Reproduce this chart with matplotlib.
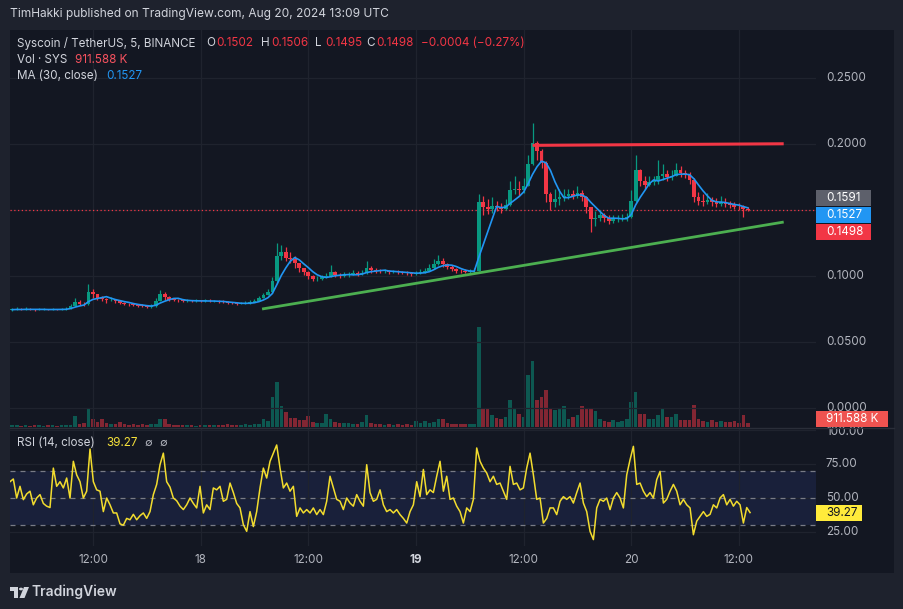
import numpy as np
import pandas as pd
import matplotlib
matplotlib.use("Agg")
import matplotlib.pyplot as plt
from matplotlib.patches import Rectangle, Circle, Polygon
from matplotlib.transforms import blended_transform_factory

plt.rcParams['font.family'] = ['Inter', 'DejaVu Sans']

# ---- data ----
# 30 minute bars, hours counted from Aug 17 00:00 UTC (first bar 03:00)
first_bar_hour = 3.0
bar_step = 0.5
first_open = 0.0742

close = [
    .0745, .0748, .0746, .0750, .0747, .0744, .0746, .0748, .0745, .0747,
    .0746, .0748, .0752, .0775, .0800, .0790, .0785, .0880, .0860, .0835,
    .0828, .0815, .0822, .0808, .0795, .0790, .0785, .0780, .0775, .0772,
    .0765, .0770, .0810, .0860, .0840, .0822, .0818, .0815, .0812, .0812,
    .0810, .0812, .0810, .0812, .0808, .0810, .0806, .0800, .0795, .0792,
    .0790, .0792, .0795, .0800, .0812, .0830, .0855, .0880, .0960, .1150,
    .1180, .1140, .1130, .1100, .1060, .1030, .1000, .0975, .0980, .0990,
    .1000, .1030, .1010, .1000, .1005, .1010, .1020, .1015, .1025, .1060,
    .1045, .1040, .1035, .1040, .1030, .1032, .1028, .1025, .1020, .1015,
    .1020, .1030, .1040, .1060, .1090, .1110, .1090, .1070, .1050, .1040,
    .1035, .1030, .1035, .1040, .1560, .1520, .1510, .1530, .1520, .1510,
    .1540, .1650, .1660, .1650, .1680, .1850, .2010, .1950, .1860, .1620,
    .1560, .1580, .1600, .1610, .1620, .1610, .1630, .1600, .1520, .1430,
    .1440, .1460, .1440, .1420, .1430, .1435, .1440, .1450, .1570, .1800,
    .1720, .1690, .1710, .1720, .1760, .1770, .1750, .1760, .1800, .1780,
    .1770, .1730, .1600, .1570, .1560, .1575, .1560, .1545, .1560, .1545,
    .1535, .1525, .1520, .1505, .1498,
]
high = [
    .0760, .0762, .0758, .0765, .0755, .0752, .0755, .0758, .0753, .0756,
    .0752, .0756, .0762, .0790, .0833, .0815, .0800, .0939, .0905, .0865,
    .0845, .0835, .0840, .0825, .0812, .0805, .0798, .0795, .0790, .0785,
    .0780, .0785, .0830, .0895, .0880, .0845, .0830, .0828, .0825, .0825,
    .0822, .0825, .0822, .0828, .0825, .0822, .0818, .0815, .0808, .0805,
    .0800, .0802, .0810, .0815, .0825, .0850, .0875, .0900, .0990, .1250,
    .1235, .1220, .1180, .1150, .1095, .1060, .1040, .1010, .1000, .1005,
    .1020, .1080, .1040, .1025, .1030, .1030, .1045, .1035, .1045, .1110,
    .1075, .1060, .1055, .1055, .1048, .1048, .1042, .1040, .1035, .1030,
    .1040, .1050, .1060, .1090, .1130, .1160, .1140, .1100, .1080, .1060,
    .1055, .1050, .1050, .1060, .1620, .1610, .1580, .1600, .1570, .1550,
    .1580, .1720, .1760, .1720, .1740, .1920, .2160, .2020, .1960, .1870,
    .1640, .1660, .1660, .1660, .1660, .1650, .1680, .1650, .1610, .1520,
    .1490, .1500, .1480, .1460, .1460, .1465, .1470, .1480, .1650, .1920,
    .1810, .1760, .1760, .1760, .1880, .1850, .1800, .1800, .1860, .1830,
    .1800, .1790, .1740, .1640, .1620, .1630, .1600, .1590, .1610, .1590,
    .1570, .1560, .1550, .1540, .1525,
]
low = [
    .0738, .0740, .0740, .0742, .0740, .0738, .0739, .0741, .0739, .0740,
    .0740, .0741, .0744, .0748, .0770, .0778, .0772, .0780, .0835, .0820,
    .0810, .0798, .0808, .0795, .0785, .0780, .0775, .0770, .0765, .0762,
    .0755, .0758, .0765, .0815, .0820, .0810, .0808, .0805, .0805, .0803,
    .0802, .0804, .0802, .0803, .0800, .0802, .0798, .0792, .0788, .0785,
    .0782, .0785, .0786, .0790, .0800, .0815, .0835, .0860, .0875, .0950,
    .1120, .1110, .1095, .1060, .1030, .1005, .0980, .0960, .0962, .0972,
    .0985, .0995, .0995, .0988, .0990, .0995, .1005, .1000, .1008, .1015,
    .1025, .1025, .1020, .1025, .1018, .1020, .1015, .1012, .1008, .1002,
    .1005, .1012, .1020, .1035, .1050, .1080, .1070, .1050, .1035, .1025,
    .1022, .1020, .1020, .1025, .1035, .1460, .1470, .1480, .1490, .1480,
    .1500, .1530, .1620, .1610, .1630, .1680, .1840, .1880, .1820, .1560,
    .1500, .1520, .1540, .1570, .1580, .1580, .1590, .1570, .1480, .1330,
    .1380, .1420, .1410, .1395, .1400, .1410, .1415, .1420, .1440, .1560,
    .1680, .1660, .1680, .1690, .1700, .1730, .1720, .1730, .1760, .1750,
    .1740, .1700, .1560, .1540, .1530, .1545, .1530, .1520, .1530, .1520,
    .1515, .1510, .1500, .1450, .1490,
]
# volume in millions of SYS
volume_m = [
    .35, .40, .30, .45, .30, .35, .40, .30, .35, .40,
    .30, .35, .40, .45, 2.5, .70, .90, 4.3, 1.8, 1.1,
    1.8, .90, .70, .70, 1.1, .60, .50, .60, .50, .60,
    .50, .60, .70, 1.8, 1.8, .70, .50, .40, .50, .40,
    .50, .30, .40, .50, .40, .50, .40, .50, .60, .50,
    .40, .50, .60, .45, .70, .70, 1.8, 1.4, 6.8, 10.3,
    4.8, 3.4, 2.1, 2.1, 1.6, 1.6, 2.5, 1.1, .90, .90,
    3.0, 1.8, 1.1, .90, .90, .90, .70, .70, 1.1, 2.7,
    .90, .70, .60, .50, .60, .50, .60, .50, .60, .50,
    1.4, .90, 1.4, .90, 1.1, 1.8, 1.8, .90, .70, .70,
    .60, .70, .60, .70, 22.8, 4.1, 4.1, 2.7, 2.1, 1.8,
    2.3, 6.2, 4.1, 3.0, 2.3, 11.9, 15.0, 6.2, 6.8, 8.4,
    4.1, 3.9, 4.1, 4.8, 1.8, 2.3, 2.7, 4.8, 4.3, 4.3,
    3.6, 1.8, 1.4, 1.1, 1.6, 1.2, 1.4, 1.8, 5.7, 8.0,
    3.0, 3.0, 1.8, 1.8, 2.7, 4.3, 2.3, 2.3, 3.0, 1.6,
    1.6, 1.6, 5.0, 1.8, 1.4, 1.2, 1.6, 1.1, 1.4, 1.2,
    1.1, 1.4, .90, 2.7, .912,
]
# RSI(14) sampled evenly from 02:45 Aug 17 to 13:15 Aug 20
rsi = [
    62, 64, 50, 58.6, 48.8, 53, 55, 45, 50, 52.5,
    46, 44, 43, 72, 58.6, 62, 57.4, 64.7, 50, 77,
    67, 62, 50, 55, 86, 62, 56, 55, 40, 50,
    45, 39, 39, 31, 30, 35, 34, 38, 34, 37,
    39, 35, 40, 52.5, 60, 74.5, 83, 62, 58, 50,
    48, 44, 41.5, 45, 50, 46, 42.7, 58.6, 39, 45,
    41.5, 57.4, 56, 58.6, 47.6, 49, 61, 54, 46, 42.7,
    30.4, 25.5, 40, 29, 40, 57.4, 72, 64.7, 77, 83,
    89, 72, 57.4, 61, 55, 58.6, 36.5, 42.7, 39, 41.5,
    39, 42.7, 37.8, 41.5, 37.8, 47.6, 66, 57.4, 49, 47.6,
    41.5, 50, 46.3, 44, 52.5, 47.6, 44, 74.5, 54, 47.6,
    49, 56, 45, 40, 41.5, 39, 41.5, 37.8, 35, 31.6,
    40, 45, 62,
    51, 71, 52.5, 56, 54, 66, 77, 55, 66, 49,
    50, 44, 40, 31.6, 42.7, 40, 49, 86.8, 77, 72,
    68.4, 62, 66, 60, 61, 55, 49, 73.3, 60, 61,
    56, 57.4, 72, 83, 67, 49, 50, 31.6, 35, 42.7,
    42.7, 37.8, 47.6, 51, 49, 51, 46.3, 54, 61, 46.3,
    40, 25.5, 19.4, 42.7, 49, 47.6, 50, 41.5, 50, 54,
    50, 42.7, 67, 78.2, 88, 60, 61, 55, 51, 54,
    50, 63.5, 69.6, 46.3, 49, 55, 60, 55, 45, 49,
    45, 42.7, 23, 33, 36.5, 40, 36.5, 38, 45, 42.7,
    50, 52.5, 45, 49, 44, 47.6, 45, 31.6, 43, 39.27,
]
rsi_start_hour, rsi_end_hour = 2.75, 85.25

# trend lines drawn on the chart (hour, price)
support_hours = [30.85, 89.0]
support_price = [0.0750, 0.1409]
resist_hours = [61.0, 89.0]
resist_price = [0.1990, 0.2002]

time_ticks = [12, 24, 36, 48, 60, 72, 84]
time_labels = ["12:00", "18", "12:00", "19", "12:00", "20", "12:00"]
price_ticks = [0.0, 0.05, 0.10, 0.15, 0.20, 0.25]
price_labels = ["0.0000", "0.0500", "0.1000", "", "0.2000", "0.2500"]
rsi_ticks = [25, 50, 75, 100]

# ---- style ----
UP, DOWN = '#089981', '#f23645'
BG, OUTER = '#131722', '#1e222d'
GRID = '#1f232e'
TXT, AX_TXT = '#d1d4dc', '#b2b5be'
MA_C, RSI_C = '#2196f3', '#f2dc2e'
FS = 8.4

W, H = 904, 609
def fx(x): return x / W
def fy(y): return 1 - y / H

fig = plt.figure(figsize=(W / 100, H / 100), dpi=100, facecolor=OUTER)
fig.add_artist(Rectangle((fx(10), fy(573)), fx(894) - fx(10), (573 - 30) / H,
                         transform=fig.transFigure, fc=BG, ec='none', zorder=0))

x_lo, x_hi = 2.75, 92.6

# ---- main pane ----
ax = fig.add_axes([fx(10), fy(427), fx(816) - fx(10), (427 - 30) / H])
axv = ax.twinx()
ax.set_zorder(axv.get_zorder() + 1)
ax.patch.set_visible(False)
axv.patch.set_visible(False)

t = first_bar_hour + bar_step * np.arange(len(close))
c = np.array(close)
o = np.r_[first_open, c[:-1]]
h = np.maximum(np.array(high), np.maximum(o, c))
l = np.minimum(np.array(low), np.minimum(o, c))
up = c >= o
cols = np.where(up, UP, DOWN)

vol_cols = [(0.03, 0.6, 0.5, 0.5) if u else (0.95, 0.21, 0.27, 0.5) for u in up]
axv.bar(t, volume_m, width=0.4, color=vol_cols, lw=0)
axv.set_ylim(0, 90.5)

ax.vlines(t, l, h, colors=cols, lw=0.9, zorder=3)
ax.bar(t, np.maximum(np.abs(c - o), 0.0005), bottom=np.minimum(o, c), width=0.42,
       color=cols, lw=0, zorder=3)

ma = pd.Series(c).rolling(5, min_periods=1).mean()
ax.plot(t, ma, color=MA_C, lw=1.2, zorder=4)

ax.plot(support_hours, support_price, color='#4caf50', lw=2, solid_capstyle='butt', zorder=5)
ax.plot(resist_hours, resist_price, color=DOWN, lw=2.2, solid_capstyle='butt', zorder=5)
ax.axhline(c[-1], color=DOWN, lw=0.9, ls=(0, (1, 2)), zorder=2)

for a in (ax, axv):
    a.set_xlim(x_lo, x_hi)
    for s in a.spines.values():
        s.set_visible(False)
    a.tick_params(length=0, labelleft=False, labelright=False, labelbottom=False)
ax.set_ylim(-0.0144, 0.2864)
ax.set_yticks(price_ticks)
ax.set_xticks(time_ticks)
axv.set_yticks([])
ax.grid(True, color=GRID, lw=0.9, zorder=0)

ptrans = blended_transform_factory(fig.transFigure, ax.transData)
for p, lab in zip(price_ticks, price_labels):
    ax.text(fx(826), p, lab, transform=ptrans, color=AX_TXT, fontsize=FS,
            va='center', ha='left', clip_on=False)

# ---- RSI pane ----
ar = fig.add_axes([fx(10), fy(546), fx(816) - fx(10), (546 - 428) / H])
ar.patch.set_visible(False)
ar.set_xlim(x_lo, x_hi)
ar.set_ylim(14.7, 101.5)
ar.set_xticks(time_ticks)
ar.set_yticks(rsi_ticks)
ar.grid(True, color=GRID, lw=0.9, zorder=0)
ar.tick_params(length=0, labelleft=False, labelbottom=False)
for s in ar.spines.values():
    s.set_visible(False)
ar.axhspan(30, 70, color='#19203a', lw=0, zorder=1)
for lvl in (70, 50, 30):
    ar.axhline(lvl, color='#787b86', lw=0.9, ls=(0, (4, 4)), zorder=2)
rsi_t = np.linspace(rsi_start_hour, rsi_end_hour, len(rsi))
ar.plot(rsi_t, rsi, color=RSI_C, lw=1.1, zorder=3)

rtrans = blended_transform_factory(fig.transFigure, ar.transData)
for v in rsi_ticks:
    # the top label sits just under the volume tag, as in the original
    ar.text(fx(826), v - (1.8 if v == 100 else 0), f"{v:.2f}", transform=rtrans,
            color=AX_TXT, fontsize=FS, va='center', ha='left', clip_on=False)

ttrans = blended_transform_factory(ar.transData, fig.transFigure)
for tt, lab in zip(time_ticks, time_labels):
    ar.text(tt, fy(560), lab, transform=ttrans, color=AX_TXT if lab != "19" else TXT,
            fontsize=FS, fontweight='bold' if lab == "19" else 'normal',
            ha='center', va='center', clip_on=False)

# pane separator
fig.add_artist(plt.Line2D([fx(10), fx(894)], [fy(427.5), fy(427.5)],
                          transform=fig.transFigure, color='#2a2e39', lw=1, zorder=2))

# ---- right axis tags ----
def row(val, a):
    return H - a.transData.transform((x_lo, val))[1]

def tag(y, text, fc, tc, x1):
    fig.add_artist(Rectangle((fx(816), fy(y + 8)), fx(x1) - fx(816), 16 / H,
                             transform=fig.transFigure, fc=fc, ec='none', zorder=6))
    fig.text(fx(826), fy(y), text, color=tc, fontsize=FS, va='center', ha='left', zorder=7)

y0 = row(0.1591, ax)
tag(y0, "0.1591", '#5d606b', 'white', 871)
tag(y0 + 17, "0.1527", MA_C, 'white', 871)
tag(y0 + 34, f"{c[-1]:.4f}", DOWN, 'white', 871)
tag(419, "911.588 K", '#ef5350', 'white', 888)
tag(row(rsi[-1], ar), f"{rsi[-1]:.2f}", '#ffeb3b', '#131722', 862)

# ---- legends / header ----
def put(x, y, s, color=TXT, size=FS, **kw):
    fig.text(fx(x), fy(y), s, color=color, fontsize=size, va='center', ha='left', zorder=8, **kw)

put(10, 14, "TimHakki published on TradingView.com, Aug 20, 2024 13:09 UTC", TXT, 8.6)
put(17, 43, "Syscoin / TetherUS, 5, BINANCE")
for x, k, v in [(206, "O", "0.1502"), (261, "H", "0.1506"), (315, "L", "0.1495"), (366, "C", "0.1498")]:
    put(x, 43, k)
    put(x + 10, 43, v, DOWN)
put(421, 43, "\u22120.0004 (\u22120.27%)", DOWN)
put(17, 60, "Vol \u00b7 SYS")
put(75, 60, "911.588 K", '#f7525f')
put(17, 76, "MA (30, close)")
put(106, 76, "0.1527", MA_C)
put(17, 443, "RSI (14, close)")
put(106, 443, "39.27", '#f5e13a')
put(144, 443, "\u2205", AX_TXT, 8)
put(159, 443, "\u2205", AX_TXT, 8)

# ---- footer logo ----
fig.add_artist(Rectangle((fx(10), fy(591)), 8 / W, 4 / H, transform=fig.transFigure, fc=TXT, ec='none'))
fig.add_artist(Rectangle((fx(14), fy(598)), 4 / W, 11 / H, transform=fig.transFigure, fc=TXT, ec='none'))
fig.add_artist(Circle((fx(21), fy(589)), 2 / W, transform=fig.transFigure, fc=TXT, ec='none'))
fig.add_artist(Polygon([(fx(24), fy(587)), (fx(29), fy(587)), (fx(24.5), fy(598)), (fx(19.5), fy(598))],
                       closed=True, transform=fig.transFigure, fc=TXT, ec='none'))
put(32, 592, "TradingView", TXT, 10, fontweight='semibold')

fig.savefig("out.png", dpi=100, facecolor=OUTER)
